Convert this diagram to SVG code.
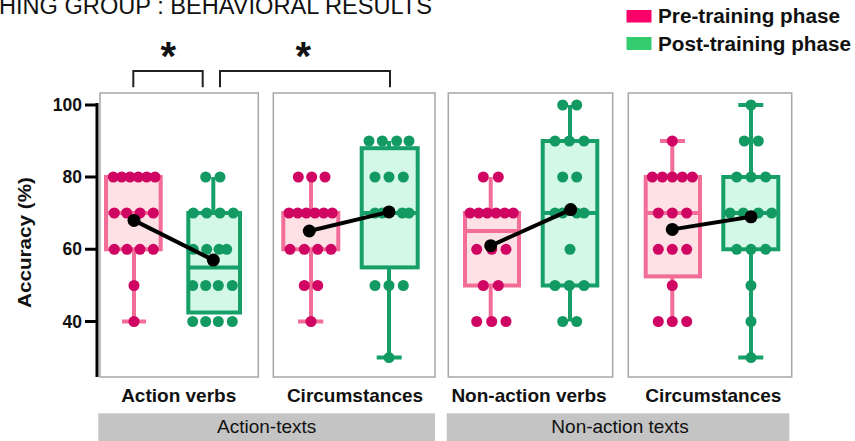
<svg xmlns="http://www.w3.org/2000/svg" width="855" height="441" viewBox="0 0 855 441">
<style>
text{font-family:"Liberation Sans",Arial,sans-serif;fill:#111}
.b{font-weight:bold}
.frame{fill:#fff;stroke:#a6a6a6;stroke-width:1.5}
.pbox{fill:#fde1e5;stroke:#f26d97;stroke-width:4}
.gbox{fill:#d3f8e7;stroke:#16a068;stroke-width:4}
.pw{stroke:#f26d97;stroke-width:4;fill:none}
.gw{stroke:#16a068;stroke-width:4;fill:none}
.pd circle{fill:#d00462}
.gd circle{fill:#139a62}
.mean{stroke:#000;stroke-width:4}
.axis{stroke:#000;stroke-width:3;fill:none}
.tick{font-size:17.5px;text-anchor:end}
.cat{font-size:19px;text-anchor:middle}
.grp{fill:#c4c4c4}
.sig{stroke:#222;stroke-width:2;fill:none}
</style>

<text x="-1" y="14" font-size="23" textLength="433" lengthAdjust="spacingAndGlyphs">HING GROUP : BEHAVIORAL RESULTS</text>

<g id="legend">
<rect x="626.5" y="10" width="25" height="12.5" fill="#fa0068"/>
<text class="b" x="658" y="23.3" font-size="20" textLength="182" lengthAdjust="spacingAndGlyphs">Pre-training phase</text>
<rect x="626.5" y="37" width="25" height="13" fill="#33cc6e"/>
<text class="b" x="658" y="50.7" font-size="20" textLength="193" lengthAdjust="spacingAndGlyphs">Post-training phase</text>
</g>

<g id="y-axis">
<path class="axis" d="M97,103V377M85,105H97M85,177H97M85,249.3H97M85,321.5H97"/>
<text class="b tick" x="82" y="111">100</text>
<text class="b tick" x="82" y="183">80</text>
<text class="b tick" x="82" y="255.3">60</text>
<text class="b tick" x="82" y="327.5">40</text>
<text class="b" font-size="19" text-anchor="middle" transform="translate(31,242.5) rotate(-90)" textLength="131" lengthAdjust="spacingAndGlyphs">Accuracy (%)</text>
</g>

<g id="panel-action-verbs">
<rect class="frame" x="100" y="93" width="158.3" height="284"/>
<path class="pw" d="M134,249.3V321.5M122,321.5H146"/>
<rect class="pbox" x="106" y="177" width="54.7" height="72.3"/>
<path class="pw" d="M106,213H160.7"/>
<g class="pd">
<circle cx="113.3" cy="177" r="5.5"/><circle cx="121.7" cy="177" r="5.5"/><circle cx="130" cy="177" r="5.5"/><circle cx="138.3" cy="177" r="5.5"/><circle cx="146.7" cy="177" r="5.5"/><circle cx="155" cy="177" r="5.5"/>
<circle cx="114.3" cy="213" r="5.5"/><circle cx="126.7" cy="213" r="5.5"/><circle cx="140" cy="213" r="5.5"/><circle cx="153.3" cy="213" r="5.5"/>
<circle cx="114.3" cy="249.3" r="5.5"/><circle cx="127" cy="249.3" r="5.5"/><circle cx="140" cy="249.3" r="5.5"/><circle cx="153.3" cy="249.3" r="5.5"/>
<circle cx="134" cy="285.5" r="5.5"/>
<circle cx="134" cy="321.5" r="5.5"/>
</g>
<path class="gw" d="M213.3,213V177"/>
<rect class="gbox" x="188.3" y="213" width="51.7" height="99.5"/>
<path class="gw" d="M188.3,267.4H240"/>
<g class="gd">
<circle cx="205.7" cy="177" r="5.5"/><circle cx="220" cy="177" r="5.5"/>
<circle cx="193.3" cy="213" r="5.5"/><circle cx="206.7" cy="213" r="5.5"/><circle cx="220" cy="213" r="5.5"/><circle cx="233.3" cy="213" r="5.5"/>
<circle cx="193.3" cy="249.3" r="5.5"/><circle cx="206.7" cy="249.3" r="5.5"/><circle cx="219" cy="249.3" r="5.5"/><circle cx="226.7" cy="249.3" r="5.5"/>
<circle cx="192.7" cy="285.5" r="5.5"/><circle cx="205.7" cy="285.5" r="5.5"/><circle cx="218.3" cy="285.5" r="5.5"/><circle cx="232.3" cy="285.5" r="5.5"/>
<circle cx="192.7" cy="321.5" r="5.5"/><circle cx="205.7" cy="321.5" r="5.5"/><circle cx="218.3" cy="321.5" r="5.5"/><circle cx="232.3" cy="321.5" r="5.5"/>
</g>
<line class="mean" x1="134" y1="220.4" x2="213.3" y2="260.1"/>
<circle cx="134" cy="220.4" r="6.5"/><circle cx="213.3" cy="260.1" r="6.5"/>
<text class="b cat" x="178.7" y="402">Action verbs</text>
</g>

<g id="panel-action-circumstances">
<rect class="frame" x="273.3" y="93" width="161.7" height="284"/>
<path class="pw" d="M311,213V177M311,249.3V321.5M298,321.5H323.3"/>
<rect class="pbox" x="283.3" y="213" width="55" height="36.3"/>
<g class="pd">
<circle cx="298.3" cy="177" r="5.5"/><circle cx="311.7" cy="177" r="5.5"/><circle cx="325" cy="177" r="5.5"/>
<circle cx="289" cy="213" r="5.5"/><circle cx="297.7" cy="213" r="5.5"/><circle cx="306.3" cy="213" r="5.5"/><circle cx="315" cy="213" r="5.5"/><circle cx="323.7" cy="213" r="5.5"/><circle cx="332.3" cy="213" r="5.5"/>
<circle cx="290" cy="249.3" r="5.5"/><circle cx="304.3" cy="249.3" r="5.5"/><circle cx="317.7" cy="249.3" r="5.5"/><circle cx="331" cy="249.3" r="5.5"/>
<circle cx="304.3" cy="285.5" r="5.5"/><circle cx="317.7" cy="285.5" r="5.5"/>
<circle cx="311" cy="321.5" r="5.5"/>
</g>
<path class="gw" d="M389,148.2V141M389,267.4V357.6M376.7,357.6H401.7"/>
<rect class="gbox" x="361.7" y="148.2" width="56" height="119.2"/>
<path class="gw" d="M361.7,213H417.7"/>
<g class="gd">
<circle cx="369" cy="141" r="5.5"/><circle cx="382.3" cy="141" r="5.5"/><circle cx="396.7" cy="141" r="5.5"/><circle cx="409" cy="141" r="5.5"/>
<circle cx="375" cy="177" r="5.5"/><circle cx="389" cy="177" r="5.5"/><circle cx="403.3" cy="177" r="5.5"/>
<circle cx="375" cy="213" r="5.5"/><circle cx="382.3" cy="213" r="5.5"/><circle cx="402.3" cy="213" r="5.5"/><circle cx="409" cy="213" r="5.5"/>
<circle cx="375" cy="285.5" r="5.5"/><circle cx="389" cy="285.5" r="5.5"/><circle cx="403.3" cy="285.5" r="5.5"/>
<circle cx="389" cy="357.6" r="5.5"/>
</g>
<line class="mean" x1="309.3" y1="231" x2="389" y2="211.9"/>
<circle cx="309.3" cy="231" r="6.5"/><circle cx="389" cy="211.9" r="6.5"/>
<text class="b cat" x="355" y="402">Circumstances</text>
</g>

<g id="panel-non-action-verbs">
<rect class="frame" x="448.3" y="93" width="164.4" height="284"/>
<path class="pw" d="M490.7,213V177M490.7,285.5V321.5"/>
<rect class="pbox" x="465" y="213" width="54" height="72.5"/>
<path class="pw" d="M465,231H519"/>
<g class="pd">
<circle cx="483.3" cy="177" r="5.5"/><circle cx="498.3" cy="177" r="5.5"/>
<circle cx="470" cy="213" r="5.5"/><circle cx="478.7" cy="213" r="5.5"/><circle cx="487.3" cy="213" r="5.5"/><circle cx="496" cy="213" r="5.5"/><circle cx="504.7" cy="213" r="5.5"/><circle cx="513.3" cy="213" r="5.5"/>
<circle cx="476.7" cy="249.3" r="5.5"/><circle cx="491.7" cy="249.3" r="5.5"/><circle cx="506" cy="249.3" r="5.5"/>
<circle cx="483.3" cy="285.5" r="5.5"/><circle cx="498.3" cy="285.5" r="5.5"/>
<circle cx="476.7" cy="321.5" r="5.5"/><circle cx="491.7" cy="321.5" r="5.5"/><circle cx="506" cy="321.5" r="5.5"/>
</g>
<path class="gw" d="M570,141V105M570,285.5V321.5"/>
<rect class="gbox" x="542.7" y="141" width="54.6" height="144.5"/>
<path class="gw" d="M542.7,213H597.3"/>
<g class="gd">
<circle cx="562.7" cy="105" r="5.5"/><circle cx="576.7" cy="105" r="5.5"/>
<circle cx="555" cy="141" r="5.5"/><circle cx="569.3" cy="141" r="5.5"/><circle cx="584" cy="141" r="5.5"/>
<circle cx="562.7" cy="177" r="5.5"/><circle cx="576.7" cy="177" r="5.5"/>
<circle cx="555" cy="213" r="5.5"/><circle cx="562.7" cy="213" r="5.5"/><circle cx="576.7" cy="213" r="5.5"/><circle cx="584" cy="213" r="5.5"/>
<circle cx="570" cy="249.3" r="5.5"/>
<circle cx="555" cy="285.5" r="5.5"/><circle cx="569.3" cy="285.5" r="5.5"/><circle cx="584" cy="285.5" r="5.5"/>
<circle cx="562.7" cy="321.5" r="5.5"/><circle cx="576.7" cy="321.5" r="5.5"/>
</g>
<line class="mean" x1="490.7" y1="245.7" x2="570.7" y2="209.6"/>
<circle cx="490.7" cy="245.7" r="6.5"/><circle cx="570.7" cy="209.6" r="6.5"/>
<text class="b cat" x="529" y="402">Non-action verbs</text>
</g>

<g id="panel-non-action-circumstances">
<rect class="frame" x="628.3" y="93" width="163.4" height="284"/>
<path class="pw" d="M672.3,177V141M660,141H685M672.3,276.4V321.5"/>
<rect class="pbox" x="645.7" y="177" width="54.3" height="99.4"/>
<path class="pw" d="M645.7,213H700"/>
<g class="pd">
<circle cx="672.3" cy="141" r="5.5"/>
<circle cx="652.3" cy="177" r="5.5"/><circle cx="662.3" cy="177" r="5.5"/><circle cx="672.3" cy="177" r="5.5"/><circle cx="682.3" cy="177" r="5.5"/><circle cx="692.3" cy="177" r="5.5"/>
<circle cx="658.3" cy="213" r="5.5"/><circle cx="672.3" cy="213" r="5.5"/><circle cx="686.7" cy="213" r="5.5"/>
<circle cx="658.3" cy="249.3" r="5.5"/><circle cx="672.3" cy="249.3" r="5.5"/><circle cx="686.7" cy="249.3" r="5.5"/>
<circle cx="672.3" cy="285.5" r="5.5"/>
<circle cx="658.3" cy="321.5" r="5.5"/><circle cx="672.3" cy="321.5" r="5.5"/><circle cx="686.7" cy="321.5" r="5.5"/>
</g>
<path class="gw" d="M751,177V105M738.3,105H763.3M751,249.3V357.6M738.3,357.6H763.3"/>
<rect class="gbox" x="723.3" y="177" width="55" height="72.3"/>
<path class="gw" d="M723.3,213H778.3"/>
<g class="gd">
<circle cx="751" cy="105" r="5.5"/>
<circle cx="744.3" cy="141" r="5.5"/><circle cx="758.3" cy="141" r="5.5"/>
<circle cx="736.7" cy="177" r="5.5"/><circle cx="751" cy="177" r="5.5"/><circle cx="765.7" cy="177" r="5.5"/>
<circle cx="730" cy="213" r="5.5"/><circle cx="743.3" cy="213" r="5.5"/><circle cx="758.3" cy="213" r="5.5"/><circle cx="771.7" cy="213" r="5.5"/>
<circle cx="736.7" cy="249.3" r="5.5"/><circle cx="751" cy="249.3" r="5.5"/><circle cx="765.7" cy="249.3" r="5.5"/>
<circle cx="751" cy="285.5" r="5.5"/>
<circle cx="751" cy="321.5" r="5.5"/>
<circle cx="751" cy="357.6" r="5.5"/>
</g>
<line class="mean" x1="672.3" y1="229.4" x2="751" y2="216.8"/>
<circle cx="672.3" cy="229.4" r="6.5"/><circle cx="751" cy="216.8" r="6.5"/>
<text class="b cat" x="713.3" y="402">Circumstances</text>
</g>

<g id="group-action-texts">
<rect class="grp" x="98.3" y="413.3" width="336.7" height="28"/>
<text class="cat" x="266.7" y="433.3">Action-texts</text>
</g>
<g id="group-non-action-texts">
<rect class="grp" x="446.7" y="413.3" width="342.6" height="28"/>
<text class="cat" x="620" y="433.3">Non-action texts</text>
</g>

<g id="connectors">
<path class="sig" d="M133.3,87.3V71H202.7V87.3"/>
<path class="sig" d="M220,87.3V71H390V87.3"/>
<text class="b" x="168.3" y="70" font-size="40" text-anchor="middle">*</text>
<text class="b" x="303.3" y="70" font-size="40" text-anchor="middle">*</text>
</g>
</svg>
